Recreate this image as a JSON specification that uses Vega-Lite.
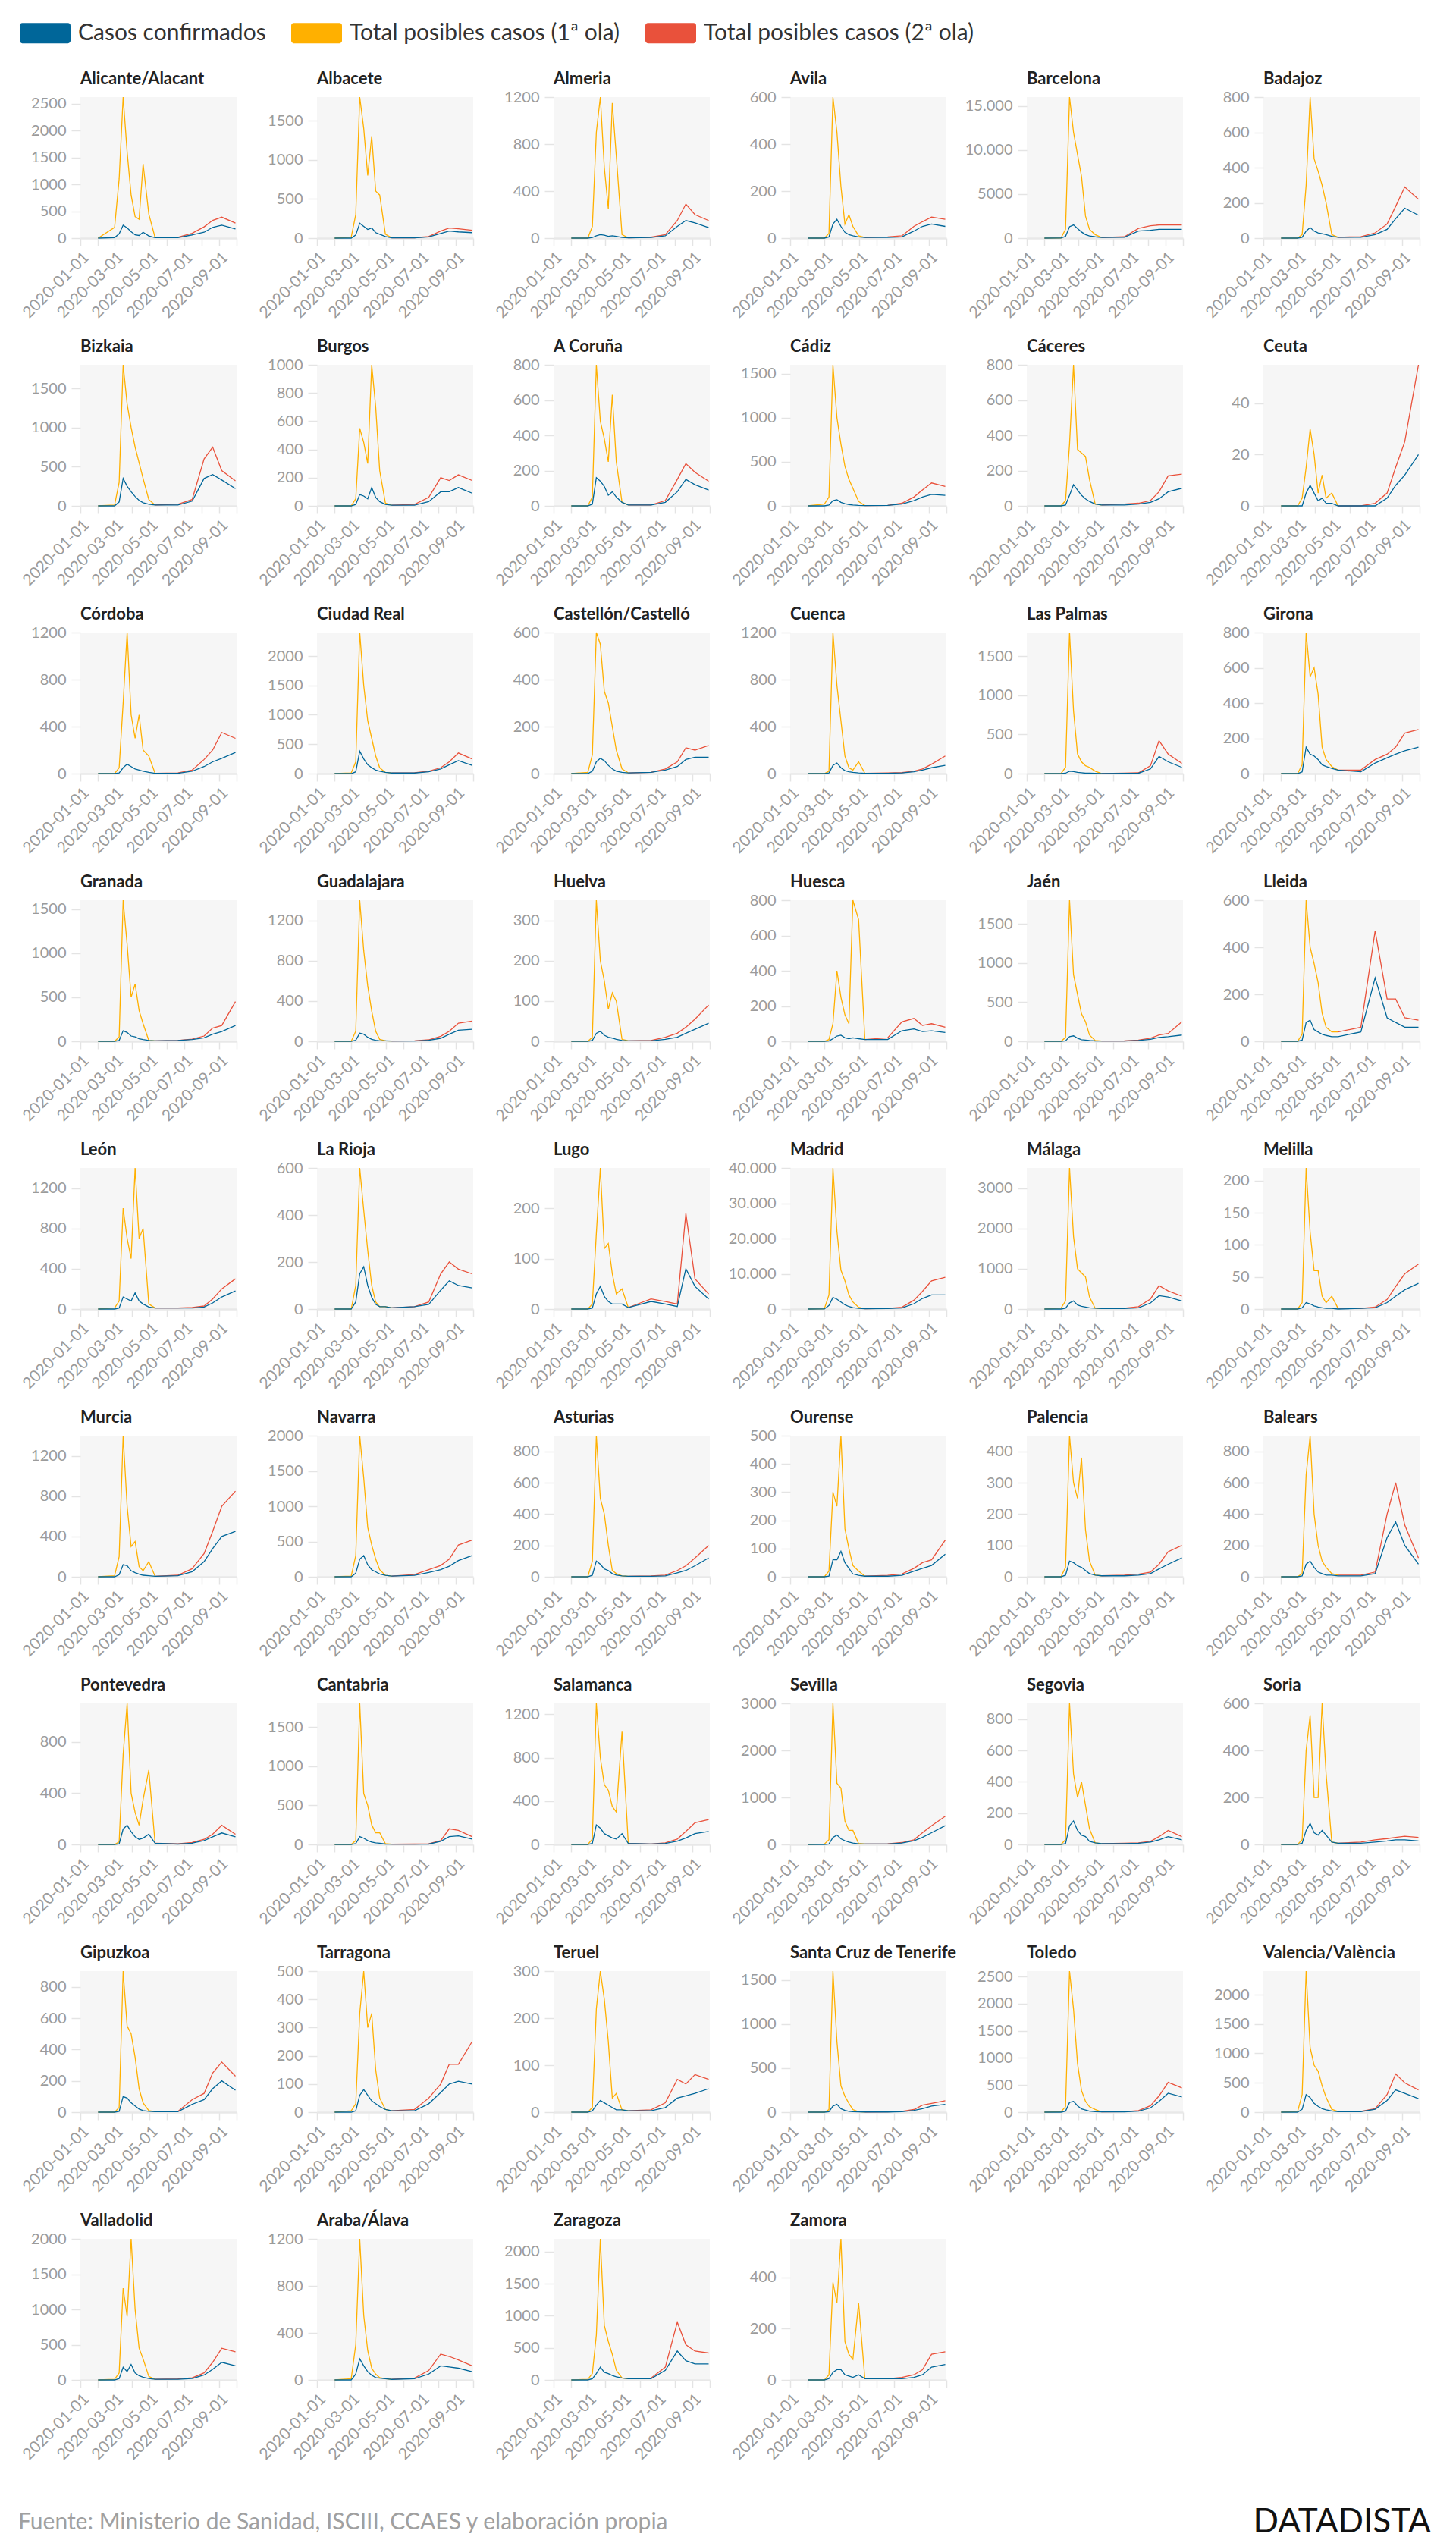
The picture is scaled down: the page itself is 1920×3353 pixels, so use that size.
{
"$schema":"https://vega.github.io/schema/vega-lite/v6.json",
"background":"white",
"padding":{"left":24,"top":10,"right":10,"bottom":10},
"datasets":{
"prov":[{"k":1,"n":"Alicante/Alacant"},{"k":2,"n":"Albacete"},{"k":3,"n":"Almeria"},{"k":4,"n":"Avila"},{"k":5,"n":"Barcelona"},{"k":6,"n":"Badajoz"},{"k":7,"n":"Bizkaia"},{"k":8,"n":"Burgos"},{"k":9,"n":"A Coruña"},{"k":10,"n":"Cádiz"},{"k":11,"n":"Cáceres"},{"k":12,"n":"Ceuta"},{"k":13,"n":"Córdoba"},{"k":14,"n":"Ciudad Real"},{"k":15,"n":"Castellón/Castelló"},{"k":16,"n":"Cuenca"},{"k":17,"n":"Las Palmas"},{"k":18,"n":"Girona"},{"k":19,"n":"Granada"},{"k":20,"n":"Guadalajara"},{"k":21,"n":"Huelva"},{"k":22,"n":"Huesca"},{"k":23,"n":"Jaén"},{"k":24,"n":"Lleida"},{"k":25,"n":"León"},{"k":26,"n":"La Rioja"},{"k":27,"n":"Lugo"},{"k":28,"n":"Madrid"},{"k":29,"n":"Málaga"},{"k":30,"n":"Melilla"},{"k":31,"n":"Murcia"},{"k":32,"n":"Navarra"},{"k":33,"n":"Asturias"},{"k":34,"n":"Ourense"},{"k":35,"n":"Palencia"},{"k":36,"n":"Balears"},{"k":37,"n":"Pontevedra"},{"k":38,"n":"Cantabria"},{"k":39,"n":"Salamanca"},{"k":40,"n":"Sevilla"},{"k":41,"n":"Segovia"},{"k":42,"n":"Soria"},{"k":43,"n":"Gipuzkoa"},{"k":44,"n":"Tarragona"},{"k":45,"n":"Teruel"},{"k":46,"n":"Santa Cruz de Tenerife"},{"k":47,"n":"Toledo"},{"k":48,"n":"Valencia/València"},{"k":49,"n":"Valladolid"},{"k":50,"n":"Araba/Álava"},{"k":51,"n":"Zaragoza"},{"k":52,"n":"Zamora"}],
"m":[
{"k":1,"d":"2020-02-01","c":0,"a":0},{"k":1,"d":"2020-03-01","c":10,"a":200},{"k":1,"d":"2020-03-09","c":80,"a":1100},{"k":1,"d":"2020-03-16","c":240,"a":2620},{"k":1,"d":"2020-03-23","c":190,"a":1600},{"k":1,"d":"2020-03-30","c":120,"a":800},{"k":1,"d":"2020-04-06","c":60,"a":400},{"k":1,"d":"2020-04-13","c":50,"a":350},{"k":1,"d":"2020-04-20","c":110,"a":1380},{"k":1,"d":"2020-04-30","c":40,"a":450},{"k":1,"d":"2020-05-11","c":10,"a":10,"b":10},{"k":1,"d":"2020-06-20","c":10,"b":15},{"k":1,"d":"2020-07-15","c":60,"b":90},{"k":1,"d":"2020-08-05","c":110,"b":210},{"k":1,"d":"2020-08-20","c":200,"b":330},{"k":1,"d":"2020-09-05","c":240,"b":390},{"k":1,"d":"2020-09-29","c":170,"b":280},
{"k":2,"d":"2020-02-01","c":0,"a":0},{"k":2,"d":"2020-03-01","c":0,"a":10},{"k":2,"d":"2020-03-09","c":40,"a":300},{"k":2,"d":"2020-03-16","c":190,"a":1800},{"k":2,"d":"2020-03-23","c":150,"a":1400},{"k":2,"d":"2020-03-30","c":110,"a":800},{"k":2,"d":"2020-04-06","c":130,"a":1300},{"k":2,"d":"2020-04-13","c":70,"a":600},{"k":2,"d":"2020-04-20","c":50,"a":550},{"k":2,"d":"2020-04-30","c":20,"a":50},{"k":2,"d":"2020-05-11","c":5,"a":5,"b":5},{"k":2,"d":"2020-06-20","c":5,"b":5},{"k":2,"d":"2020-07-15","c":15,"b":20},{"k":2,"d":"2020-08-05","c":60,"b":90},{"k":2,"d":"2020-08-20","c":90,"b":130},{"k":2,"d":"2020-09-05","c":80,"b":120},{"k":2,"d":"2020-09-29","c":70,"b":100},
{"k":3,"d":"2020-02-01","c":0,"a":0},{"k":3,"d":"2020-03-01","c":0,"a":0},{"k":3,"d":"2020-03-09","c":5,"a":100},{"k":3,"d":"2020-03-16","c":20,"a":900},{"k":3,"d":"2020-03-23","c":30,"a":1200},{"k":3,"d":"2020-03-30","c":25,"a":600},{"k":3,"d":"2020-04-06","c":15,"a":250},{"k":3,"d":"2020-04-13","c":20,"a":1150},{"k":3,"d":"2020-04-20","c":15,"a":700},{"k":3,"d":"2020-04-30","c":5,"a":30},{"k":3,"d":"2020-05-11","c":3,"a":3,"b":3},{"k":3,"d":"2020-06-20","c":5,"b":8},{"k":3,"d":"2020-07-15","c":20,"b":30},{"k":3,"d":"2020-08-05","c":100,"b":150},{"k":3,"d":"2020-08-20","c":150,"b":290},{"k":3,"d":"2020-09-05","c":130,"b":200},{"k":3,"d":"2020-09-29","c":90,"b":150},
{"k":4,"d":"2020-02-01","c":0,"a":0},{"k":4,"d":"2020-03-01","c":0,"a":0},{"k":4,"d":"2020-03-09","c":5,"a":20},{"k":4,"d":"2020-03-16","c":60,"a":600},{"k":4,"d":"2020-03-23","c":80,"a":450},{"k":4,"d":"2020-03-30","c":50,"a":220},{"k":4,"d":"2020-04-06","c":25,"a":60},{"k":4,"d":"2020-04-13","c":15,"a":100},{"k":4,"d":"2020-04-20","c":10,"a":50},{"k":4,"d":"2020-04-30","c":5,"a":10},{"k":4,"d":"2020-05-11","c":3,"a":3,"b":3},{"k":4,"d":"2020-06-20","c":3,"b":5},{"k":4,"d":"2020-07-15","c":5,"b":10},{"k":4,"d":"2020-08-05","c":30,"b":50},{"k":4,"d":"2020-08-20","c":50,"b":70},{"k":4,"d":"2020-09-05","c":60,"b":90},{"k":4,"d":"2020-09-29","c":50,"b":80},
{"k":5,"d":"2020-02-01","c":0,"a":0},{"k":5,"d":"2020-03-01","c":5,"a":20},{"k":5,"d":"2020-03-09","c":200,"a":1000},{"k":5,"d":"2020-03-16","c":1300,"a":16000},{"k":5,"d":"2020-03-23","c":1500,"a":12000},{"k":5,"d":"2020-03-30","c":1100,"a":9500},{"k":5,"d":"2020-04-06","c":700,"a":7000},{"k":5,"d":"2020-04-13","c":400,"a":2500},{"k":5,"d":"2020-04-20","c":250,"a":1000},{"k":5,"d":"2020-04-30","c":150,"a":400},{"k":5,"d":"2020-05-11","c":80,"a":80,"b":80},{"k":5,"d":"2020-06-20","c":100,"b":150},{"k":5,"d":"2020-07-15","c":800,"b":1100},{"k":5,"d":"2020-08-05","c":900,"b":1400},{"k":5,"d":"2020-08-20","c":1000,"b":1500},{"k":5,"d":"2020-09-05","c":1000,"b":1500},{"k":5,"d":"2020-09-29","c":1000,"b":1500},
{"k":6,"d":"2020-02-01","c":0,"a":0},{"k":6,"d":"2020-03-01","c":0,"a":0},{"k":6,"d":"2020-03-09","c":5,"a":20},{"k":6,"d":"2020-03-16","c":40,"a":300},{"k":6,"d":"2020-03-23","c":60,"a":800},{"k":6,"d":"2020-03-30","c":40,"a":450},{"k":6,"d":"2020-04-06","c":30,"a":380},{"k":6,"d":"2020-04-13","c":25,"a":300},{"k":6,"d":"2020-04-20","c":20,"a":200},{"k":6,"d":"2020-04-30","c":10,"a":20},{"k":6,"d":"2020-05-11","c":5,"a":5,"b":5},{"k":6,"d":"2020-06-20","c":5,"b":8},{"k":6,"d":"2020-07-15","c":20,"b":30},{"k":6,"d":"2020-08-05","c":50,"b":80},{"k":6,"d":"2020-08-20","c":110,"b":180},{"k":6,"d":"2020-09-05","c":170,"b":290},{"k":6,"d":"2020-09-29","c":130,"b":220},
{"k":7,"d":"2020-02-01","c":0,"a":0},{"k":7,"d":"2020-03-01","c":0,"a":10},{"k":7,"d":"2020-03-09","c":50,"a":300},{"k":7,"d":"2020-03-16","c":350,"a":1800},{"k":7,"d":"2020-03-23","c":250,"a":1300},{"k":7,"d":"2020-03-30","c":180,"a":1000},{"k":7,"d":"2020-04-06","c":120,"a":750},{"k":7,"d":"2020-04-13","c":70,"a":550},{"k":7,"d":"2020-04-20","c":40,"a":350},{"k":7,"d":"2020-04-30","c":20,"a":80},{"k":7,"d":"2020-05-11","c":10,"a":10,"b":10},{"k":7,"d":"2020-06-20","c":10,"b":20},{"k":7,"d":"2020-07-15","c":60,"b":80},{"k":7,"d":"2020-08-05","c":350,"b":600},{"k":7,"d":"2020-08-20","c":400,"b":750},{"k":7,"d":"2020-09-05","c":330,"b":450},{"k":7,"d":"2020-09-29","c":220,"b":320},
{"k":8,"d":"2020-02-01","c":0,"a":0},{"k":8,"d":"2020-03-01","c":0,"a":0},{"k":8,"d":"2020-03-09","c":10,"a":50},{"k":8,"d":"2020-03-16","c":80,"a":550},{"k":8,"d":"2020-03-23","c":70,"a":450},{"k":8,"d":"2020-03-30","c":50,"a":300},{"k":8,"d":"2020-04-06","c":130,"a":1000},{"k":8,"d":"2020-04-13","c":60,"a":700},{"k":8,"d":"2020-04-20","c":30,"a":250},{"k":8,"d":"2020-04-30","c":10,"a":20},{"k":8,"d":"2020-05-11","c":5,"a":5,"b":5},{"k":8,"d":"2020-06-20","c":5,"b":10},{"k":8,"d":"2020-07-15","c":30,"b":60},{"k":8,"d":"2020-08-05","c":100,"b":200},{"k":8,"d":"2020-08-20","c":100,"b":180},{"k":8,"d":"2020-09-05","c":130,"b":220},{"k":8,"d":"2020-09-29","c":90,"b":180},
{"k":9,"d":"2020-02-01","c":0,"a":0},{"k":9,"d":"2020-03-01","c":0,"a":0},{"k":9,"d":"2020-03-09","c":10,"a":50},{"k":9,"d":"2020-03-16","c":160,"a":800},{"k":9,"d":"2020-03-23","c":140,"a":480},{"k":9,"d":"2020-03-30","c":110,"a":380},{"k":9,"d":"2020-04-06","c":60,"a":250},{"k":9,"d":"2020-04-13","c":80,"a":630},{"k":9,"d":"2020-04-20","c":50,"a":250},{"k":9,"d":"2020-04-30","c":20,"a":20},{"k":9,"d":"2020-05-11","c":5,"a":5,"b":5},{"k":9,"d":"2020-06-20","c":5,"b":5},{"k":9,"d":"2020-07-15","c":20,"b":30},{"k":9,"d":"2020-08-05","c":80,"b":150},{"k":9,"d":"2020-08-20","c":150,"b":240},{"k":9,"d":"2020-09-05","c":120,"b":190},{"k":9,"d":"2020-09-29","c":90,"b":140},
{"k":10,"d":"2020-02-01","c":0,"a":0},{"k":10,"d":"2020-03-01","c":0,"a":20},{"k":10,"d":"2020-03-09","c":10,"a":100},{"k":10,"d":"2020-03-16","c":60,"a":1600},{"k":10,"d":"2020-03-23","c":70,"a":1000},{"k":10,"d":"2020-03-30","c":40,"a":700},{"k":10,"d":"2020-04-06","c":25,"a":450},{"k":10,"d":"2020-04-13","c":15,"a":300},{"k":10,"d":"2020-04-20","c":10,"a":200},{"k":10,"d":"2020-04-30","c":5,"a":50},{"k":10,"d":"2020-05-11","c":3,"a":3,"b":3},{"k":10,"d":"2020-06-20","c":5,"b":5},{"k":10,"d":"2020-07-15","c":20,"b":30},{"k":10,"d":"2020-08-05","c":60,"b":100},{"k":10,"d":"2020-08-20","c":100,"b":180},{"k":10,"d":"2020-09-05","c":130,"b":260},{"k":10,"d":"2020-09-29","c":120,"b":220},
{"k":11,"d":"2020-02-01","c":0,"a":0},{"k":11,"d":"2020-03-01","c":0,"a":0},{"k":11,"d":"2020-03-09","c":5,"a":30},{"k":11,"d":"2020-03-16","c":60,"a":350},{"k":11,"d":"2020-03-23","c":120,"a":800},{"k":11,"d":"2020-03-30","c":90,"a":320},{"k":11,"d":"2020-04-06","c":60,"a":300},{"k":11,"d":"2020-04-13","c":40,"a":280},{"k":11,"d":"2020-04-20","c":25,"a":150},{"k":11,"d":"2020-04-30","c":10,"a":10},{"k":11,"d":"2020-05-11","c":5,"a":5,"b":5},{"k":11,"d":"2020-06-20","c":5,"b":10},{"k":11,"d":"2020-07-15","c":10,"b":15},{"k":11,"d":"2020-08-05","c":20,"b":30},{"k":11,"d":"2020-08-20","c":40,"b":80},{"k":11,"d":"2020-09-05","c":80,"b":170},{"k":11,"d":"2020-09-29","c":100,"b":180},
{"k":12,"d":"2020-02-01","c":0,"a":0},{"k":12,"d":"2020-03-01","c":0,"a":0},{"k":12,"d":"2020-03-09","c":0,"a":3},{"k":12,"d":"2020-03-16","c":5,"a":15},{"k":12,"d":"2020-03-23","c":8,"a":30},{"k":12,"d":"2020-03-30","c":5,"a":20},{"k":12,"d":"2020-04-06","c":2,"a":5},{"k":12,"d":"2020-04-13","c":3,"a":12},{"k":12,"d":"2020-04-20","c":1,"a":3},{"k":12,"d":"2020-04-30","c":1,"a":5},{"k":12,"d":"2020-05-11","c":0,"a":0,"b":0},{"k":12,"d":"2020-06-20","c":0,"b":0},{"k":12,"d":"2020-07-15","c":0,"b":1},{"k":12,"d":"2020-08-05","c":3,"b":5},{"k":12,"d":"2020-08-20","c":8,"b":15},{"k":12,"d":"2020-09-05","c":12,"b":25},{"k":12,"d":"2020-09-29","c":20,"b":55},
{"k":13,"d":"2020-02-01","c":0,"a":0},{"k":13,"d":"2020-03-01","c":0,"a":0},{"k":13,"d":"2020-03-09","c":5,"a":50},{"k":13,"d":"2020-03-16","c":50,"a":600},{"k":13,"d":"2020-03-23","c":80,"a":1200},{"k":13,"d":"2020-03-30","c":60,"a":500},{"k":13,"d":"2020-04-06","c":40,"a":300},{"k":13,"d":"2020-04-13","c":30,"a":500},{"k":13,"d":"2020-04-20","c":20,"a":200},{"k":13,"d":"2020-04-30","c":10,"a":150},{"k":13,"d":"2020-05-11","c":3,"a":3,"b":3},{"k":13,"d":"2020-06-20","c":3,"b":5},{"k":13,"d":"2020-07-15","c":20,"b":30},{"k":13,"d":"2020-08-05","c":60,"b":120},{"k":13,"d":"2020-08-20","c":100,"b":200},{"k":13,"d":"2020-09-05","c":130,"b":350},{"k":13,"d":"2020-09-29","c":180,"b":300},
{"k":14,"d":"2020-02-01","c":0,"a":0},{"k":14,"d":"2020-03-01","c":0,"a":10},{"k":14,"d":"2020-03-09","c":30,"a":200},{"k":14,"d":"2020-03-16","c":380,"a":2400},{"k":14,"d":"2020-03-23","c":250,"a":1500},{"k":14,"d":"2020-03-30","c":150,"a":900},{"k":14,"d":"2020-04-06","c":100,"a":600},{"k":14,"d":"2020-04-13","c":60,"a":300},{"k":14,"d":"2020-04-20","c":40,"a":100},{"k":14,"d":"2020-04-30","c":20,"a":20},{"k":14,"d":"2020-05-11","c":10,"a":10,"b":10},{"k":14,"d":"2020-06-20","c":10,"b":15},{"k":14,"d":"2020-07-15","c":30,"b":40},{"k":14,"d":"2020-08-05","c":80,"b":100},{"k":14,"d":"2020-08-20","c":150,"b":200},{"k":14,"d":"2020-09-05","c":220,"b":350},{"k":14,"d":"2020-09-29","c":140,"b":250},
{"k":15,"d":"2020-02-01","c":0,"a":0},{"k":15,"d":"2020-03-01","c":0,"a":5},{"k":15,"d":"2020-03-09","c":10,"a":80},{"k":15,"d":"2020-03-16","c":50,"a":600},{"k":15,"d":"2020-03-23","c":65,"a":550},{"k":15,"d":"2020-03-30","c":55,"a":350},{"k":15,"d":"2020-04-06","c":35,"a":300},{"k":15,"d":"2020-04-13","c":20,"a":200},{"k":15,"d":"2020-04-20","c":10,"a":100},{"k":15,"d":"2020-04-30","c":5,"a":20},{"k":15,"d":"2020-05-11","c":3,"a":3,"b":3},{"k":15,"d":"2020-06-20","c":5,"b":5},{"k":15,"d":"2020-07-15","c":15,"b":20},{"k":15,"d":"2020-08-05","c":30,"b":50},{"k":15,"d":"2020-08-20","c":60,"b":110},{"k":15,"d":"2020-09-05","c":70,"b":100},{"k":15,"d":"2020-09-29","c":70,"b":120},
{"k":16,"d":"2020-02-01","c":0,"a":0},{"k":16,"d":"2020-03-01","c":0,"a":0},{"k":16,"d":"2020-03-09","c":5,"a":20},{"k":16,"d":"2020-03-16","c":70,"a":1200},{"k":16,"d":"2020-03-23","c":90,"a":750},{"k":16,"d":"2020-03-30","c":50,"a":450},{"k":16,"d":"2020-04-06","c":25,"a":150},{"k":16,"d":"2020-04-13","c":15,"a":50},{"k":16,"d":"2020-04-20","c":10,"a":30},{"k":16,"d":"2020-04-30","c":5,"a":100},{"k":16,"d":"2020-05-11","c":3,"a":3,"b":3},{"k":16,"d":"2020-06-20","c":3,"b":5},{"k":16,"d":"2020-07-15","c":5,"b":8},{"k":16,"d":"2020-08-05","c":15,"b":20},{"k":16,"d":"2020-08-20","c":30,"b":40},{"k":16,"d":"2020-09-05","c":50,"b":80},{"k":16,"d":"2020-09-29","c":70,"b":150},
{"k":17,"d":"2020-02-01","c":0,"a":0},{"k":17,"d":"2020-03-01","c":0,"a":0},{"k":17,"d":"2020-03-09","c":5,"a":80},{"k":17,"d":"2020-03-16","c":30,"a":1800},{"k":17,"d":"2020-03-23","c":25,"a":800},{"k":17,"d":"2020-03-30","c":15,"a":250},{"k":17,"d":"2020-04-06","c":10,"a":150},{"k":17,"d":"2020-04-13","c":5,"a":100},{"k":17,"d":"2020-04-20","c":5,"a":80},{"k":17,"d":"2020-04-30","c":3,"a":30},{"k":17,"d":"2020-05-11","c":2,"a":2,"b":2},{"k":17,"d":"2020-06-20","c":3,"b":5},{"k":17,"d":"2020-07-15","c":5,"b":10},{"k":17,"d":"2020-08-05","c":60,"b":100},{"k":17,"d":"2020-08-20","c":220,"b":420},{"k":17,"d":"2020-09-05","c":150,"b":250},{"k":17,"d":"2020-09-29","c":80,"b":130},
{"k":18,"d":"2020-02-01","c":0,"a":0},{"k":18,"d":"2020-03-01","c":0,"a":0},{"k":18,"d":"2020-03-09","c":10,"a":50},{"k":18,"d":"2020-03-16","c":150,"a":800},{"k":18,"d":"2020-03-23","c":110,"a":550},{"k":18,"d":"2020-03-30","c":100,"a":600},{"k":18,"d":"2020-04-06","c":80,"a":450},{"k":18,"d":"2020-04-13","c":50,"a":150},{"k":18,"d":"2020-04-20","c":40,"a":80},{"k":18,"d":"2020-04-30","c":30,"a":40},{"k":18,"d":"2020-05-11","c":20,"a":20,"b":20},{"k":18,"d":"2020-06-20","c":10,"b":20},{"k":18,"d":"2020-07-15","c":60,"b":80},{"k":18,"d":"2020-08-05","c":90,"b":110},{"k":18,"d":"2020-08-20","c":110,"b":150},{"k":18,"d":"2020-09-05","c":130,"b":230},{"k":18,"d":"2020-09-29","c":150,"b":250},
{"k":19,"d":"2020-02-01","c":0,"a":0},{"k":19,"d":"2020-03-01","c":0,"a":0},{"k":19,"d":"2020-03-09","c":10,"a":50},{"k":19,"d":"2020-03-16","c":120,"a":1600},{"k":19,"d":"2020-03-23","c":100,"a":1100},{"k":19,"d":"2020-03-30","c":60,"a":500},{"k":19,"d":"2020-04-06","c":50,"a":650},{"k":19,"d":"2020-04-13","c":30,"a":350},{"k":19,"d":"2020-04-20","c":20,"a":200},{"k":19,"d":"2020-04-30","c":10,"a":10},{"k":19,"d":"2020-05-11","c":5,"a":5,"b":5},{"k":19,"d":"2020-06-20","c":10,"b":10},{"k":19,"d":"2020-07-15","c":20,"b":25},{"k":19,"d":"2020-08-05","c":40,"b":60},{"k":19,"d":"2020-08-20","c":80,"b":150},{"k":19,"d":"2020-09-05","c":110,"b":180},{"k":19,"d":"2020-09-29","c":180,"b":450},
{"k":20,"d":"2020-02-01","c":0,"a":0},{"k":20,"d":"2020-03-01","c":0,"a":0},{"k":20,"d":"2020-03-09","c":10,"a":100},{"k":20,"d":"2020-03-16","c":80,"a":1400},{"k":20,"d":"2020-03-23","c":70,"a":900},{"k":20,"d":"2020-03-30","c":40,"a":550},{"k":20,"d":"2020-04-06","c":20,"a":300},{"k":20,"d":"2020-04-13","c":10,"a":100},{"k":20,"d":"2020-04-20","c":5,"a":20},{"k":20,"d":"2020-04-30","c":5,"a":5},{"k":20,"d":"2020-05-11","c":3,"a":3,"b":3},{"k":20,"d":"2020-06-20","c":3,"b":5},{"k":20,"d":"2020-07-15","c":10,"b":15},{"k":20,"d":"2020-08-05","c":30,"b":50},{"k":20,"d":"2020-08-20","c":70,"b":100},{"k":20,"d":"2020-09-05","c":110,"b":180},{"k":20,"d":"2020-09-29","c":120,"b":200},
{"k":21,"d":"2020-02-01","c":0,"a":0},{"k":21,"d":"2020-03-01","c":0,"a":0},{"k":21,"d":"2020-03-09","c":2,"a":10},{"k":21,"d":"2020-03-16","c":20,"a":350},{"k":21,"d":"2020-03-23","c":25,"a":200},{"k":21,"d":"2020-03-30","c":15,"a":150},{"k":21,"d":"2020-04-06","c":10,"a":80},{"k":21,"d":"2020-04-13","c":8,"a":120},{"k":21,"d":"2020-04-20","c":5,"a":100},{"k":21,"d":"2020-04-30","c":2,"a":5},{"k":21,"d":"2020-05-11","c":1,"a":1,"b":1},{"k":21,"d":"2020-06-20","c":1,"b":2},{"k":21,"d":"2020-07-15","c":5,"b":10},{"k":21,"d":"2020-08-05","c":10,"b":20},{"k":21,"d":"2020-08-20","c":20,"b":35},{"k":21,"d":"2020-09-05","c":30,"b":55},{"k":21,"d":"2020-09-29","c":45,"b":90},
{"k":22,"d":"2020-02-01","c":0,"a":0},{"k":22,"d":"2020-03-01","c":0,"a":0},{"k":22,"d":"2020-03-09","c":2,"a":10},{"k":22,"d":"2020-03-16","c":15,"a":100},{"k":22,"d":"2020-03-23","c":30,"a":400},{"k":22,"d":"2020-03-30","c":35,"a":250},{"k":22,"d":"2020-04-06","c":20,"a":150},{"k":22,"d":"2020-04-13","c":15,"a":100},{"k":22,"d":"2020-04-20","c":20,"a":800},{"k":22,"d":"2020-04-30","c":15,"a":690},{"k":22,"d":"2020-05-11","c":10,"a":10,"b":10},{"k":22,"d":"2020-06-20","c":10,"b":20},{"k":22,"d":"2020-07-15","c":60,"b":110},{"k":22,"d":"2020-08-05","c":70,"b":130},{"k":22,"d":"2020-08-20","c":55,"b":90},{"k":22,"d":"2020-09-05","c":60,"b":100},{"k":22,"d":"2020-09-29","c":50,"b":80},
{"k":23,"d":"2020-02-01","c":0,"a":0},{"k":23,"d":"2020-03-01","c":0,"a":0},{"k":23,"d":"2020-03-09","c":5,"a":50},{"k":23,"d":"2020-03-16","c":60,"a":1800},{"k":23,"d":"2020-03-23","c":70,"a":850},{"k":23,"d":"2020-03-30","c":40,"a":600},{"k":23,"d":"2020-04-06","c":20,"a":350},{"k":23,"d":"2020-04-13","c":15,"a":250},{"k":23,"d":"2020-04-20","c":10,"a":80},{"k":23,"d":"2020-04-30","c":5,"a":10},{"k":23,"d":"2020-05-11","c":3,"a":3,"b":3},{"k":23,"d":"2020-06-20","c":3,"b":5},{"k":23,"d":"2020-07-15","c":10,"b":15},{"k":23,"d":"2020-08-05","c":25,"b":40},{"k":23,"d":"2020-08-20","c":50,"b":80},{"k":23,"d":"2020-09-05","c":60,"b":100},{"k":23,"d":"2020-09-29","c":80,"b":250},
{"k":24,"d":"2020-02-01","c":0,"a":0},{"k":24,"d":"2020-03-01","c":0,"a":0},{"k":24,"d":"2020-03-09","c":5,"a":30},{"k":24,"d":"2020-03-16","c":80,"a":600},{"k":24,"d":"2020-03-23","c":90,"a":400},{"k":24,"d":"2020-03-30","c":50,"a":330},{"k":24,"d":"2020-04-06","c":40,"a":250},{"k":24,"d":"2020-04-13","c":30,"a":120},{"k":24,"d":"2020-04-20","c":25,"a":60},{"k":24,"d":"2020-04-30","c":20,"a":40},{"k":24,"d":"2020-05-11","c":20,"a":40,"b":40},{"k":24,"d":"2020-06-20","c":40,"b":60},{"k":24,"d":"2020-07-15","c":270,"b":470},{"k":24,"d":"2020-08-05","c":100,"b":180},{"k":24,"d":"2020-08-20","c":80,"b":180},{"k":24,"d":"2020-09-05","c":60,"b":100},{"k":24,"d":"2020-09-29","c":60,"b":90},
{"k":25,"d":"2020-02-01","c":0,"a":0},{"k":25,"d":"2020-03-01","c":0,"a":10},{"k":25,"d":"2020-03-09","c":10,"a":80},{"k":25,"d":"2020-03-16","c":120,"a":1000},{"k":25,"d":"2020-03-23","c":100,"a":700},{"k":25,"d":"2020-03-30","c":80,"a":500},{"k":25,"d":"2020-04-06","c":160,"a":1400},{"k":25,"d":"2020-04-13","c":80,"a":700},{"k":25,"d":"2020-04-20","c":50,"a":800},{"k":25,"d":"2020-04-30","c":20,"a":50},{"k":25,"d":"2020-05-11","c":10,"a":10,"b":10},{"k":25,"d":"2020-06-20","c":10,"b":10},{"k":25,"d":"2020-07-15","c":10,"b":15},{"k":25,"d":"2020-08-05","c":20,"b":30},{"k":25,"d":"2020-08-20","c":60,"b":100},{"k":25,"d":"2020-09-05","c":120,"b":200},{"k":25,"d":"2020-09-29","c":180,"b":300},
{"k":26,"d":"2020-02-01","c":0,"a":0},{"k":26,"d":"2020-03-01","c":0,"a":0},{"k":26,"d":"2020-03-09","c":30,"a":100},{"k":26,"d":"2020-03-16","c":150,"a":600},{"k":26,"d":"2020-03-23","c":180,"a":420},{"k":26,"d":"2020-03-30","c":100,"a":250},{"k":26,"d":"2020-04-06","c":50,"a":100},{"k":26,"d":"2020-04-13","c":20,"a":30},{"k":26,"d":"2020-04-20","c":10,"a":10},{"k":26,"d":"2020-04-30","c":10,"a":10},{"k":26,"d":"2020-05-11","c":5,"a":5,"b":5},{"k":26,"d":"2020-06-20","c":10,"b":10},{"k":26,"d":"2020-07-15","c":20,"b":30},{"k":26,"d":"2020-08-05","c":80,"b":150},{"k":26,"d":"2020-08-20","c":120,"b":200},{"k":26,"d":"2020-09-05","c":100,"b":170},{"k":26,"d":"2020-09-29","c":90,"b":150},
{"k":27,"d":"2020-02-01","c":0,"a":0},{"k":27,"d":"2020-03-01","c":0,"a":0},{"k":27,"d":"2020-03-09","c":2,"a":10},{"k":27,"d":"2020-03-16","c":30,"a":150},{"k":27,"d":"2020-03-23","c":45,"a":280},{"k":27,"d":"2020-03-30","c":25,"a":120},{"k":27,"d":"2020-04-06","c":15,"a":130},{"k":27,"d":"2020-04-13","c":10,"a":70},{"k":27,"d":"2020-04-20","c":10,"a":30},{"k":27,"d":"2020-04-30","c":10,"a":40},{"k":27,"d":"2020-05-11","c":3,"a":3,"b":3},{"k":27,"d":"2020-06-20","c":15,"b":20},{"k":27,"d":"2020-07-15","c":10,"b":15},{"k":27,"d":"2020-08-05","c":5,"b":10},{"k":27,"d":"2020-08-20","c":80,"b":190},{"k":27,"d":"2020-09-05","c":45,"b":60},{"k":27,"d":"2020-09-29","c":20,"b":30},
{"k":28,"d":"2020-02-01","c":0,"a":0},{"k":28,"d":"2020-03-01","c":10,"a":100},{"k":28,"d":"2020-03-09","c":1000,"a":4000},{"k":28,"d":"2020-03-16","c":3300,"a":40000},{"k":28,"d":"2020-03-23","c":2800,"a":22000},{"k":28,"d":"2020-03-30","c":2000,"a":11000},{"k":28,"d":"2020-04-06","c":1200,"a":8000},{"k":28,"d":"2020-04-13","c":700,"a":4000},{"k":28,"d":"2020-04-20","c":400,"a":2000},{"k":28,"d":"2020-04-30","c":200,"a":500},{"k":28,"d":"2020-05-11","c":100,"a":100,"b":100},{"k":28,"d":"2020-06-20","c":150,"b":200},{"k":28,"d":"2020-07-15","c":300,"b":500},{"k":28,"d":"2020-08-05","c":1500,"b":2500},{"k":28,"d":"2020-08-20","c":3000,"b":5000},{"k":28,"d":"2020-09-05","c":4000,"b":8000},{"k":28,"d":"2020-09-29","c":4000,"b":9000},
{"k":29,"d":"2020-02-01","c":0,"a":0},{"k":29,"d":"2020-03-01","c":0,"a":20},{"k":29,"d":"2020-03-09","c":20,"a":200},{"k":29,"d":"2020-03-16","c":150,"a":3500},{"k":29,"d":"2020-03-23","c":200,"a":1800},{"k":29,"d":"2020-03-30","c":100,"a":1000},{"k":29,"d":"2020-04-06","c":70,"a":900},{"k":29,"d":"2020-04-13","c":50,"a":800},{"k":29,"d":"2020-04-20","c":30,"a":300},{"k":29,"d":"2020-04-30","c":20,"a":20},{"k":29,"d":"2020-05-11","c":10,"a":10,"b":10},{"k":29,"d":"2020-06-20","c":10,"b":20},{"k":29,"d":"2020-07-15","c":30,"b":60},{"k":29,"d":"2020-08-05","c":150,"b":250},{"k":29,"d":"2020-08-20","c":330,"b":580},{"k":29,"d":"2020-09-05","c":300,"b":450},{"k":29,"d":"2020-09-29","c":200,"b":320},
{"k":30,"d":"2020-02-01","c":0,"a":0},{"k":30,"d":"2020-03-01","c":0,"a":0},{"k":30,"d":"2020-03-09","c":2,"a":10},{"k":30,"d":"2020-03-16","c":10,"a":220},{"k":30,"d":"2020-03-23","c":8,"a":120},{"k":30,"d":"2020-03-30","c":5,"a":60},{"k":30,"d":"2020-04-06","c":3,"a":60},{"k":30,"d":"2020-04-13","c":2,"a":20},{"k":30,"d":"2020-04-20","c":1,"a":10},{"k":30,"d":"2020-04-30","c":1,"a":20},{"k":30,"d":"2020-05-11","c":0,"a":1,"b":1},{"k":30,"d":"2020-06-20","c":1,"b":1},{"k":30,"d":"2020-07-15","c":2,"b":3},{"k":30,"d":"2020-08-05","c":10,"b":15},{"k":30,"d":"2020-08-20","c":20,"b":35},{"k":30,"d":"2020-09-05","c":30,"b":55},{"k":30,"d":"2020-09-29","c":40,"b":70},
{"k":31,"d":"2020-02-01","c":0,"a":0},{"k":31,"d":"2020-03-01","c":0,"a":10},{"k":31,"d":"2020-03-09","c":20,"a":200},{"k":31,"d":"2020-03-16","c":120,"a":1400},{"k":31,"d":"2020-03-23","c":110,"a":700},{"k":31,"d":"2020-03-30","c":60,"a":300},{"k":31,"d":"2020-04-06","c":40,"a":350},{"k":31,"d":"2020-04-13","c":25,"a":100},{"k":31,"d":"2020-04-20","c":15,"a":60},{"k":31,"d":"2020-04-30","c":10,"a":150},{"k":31,"d":"2020-05-11","c":5,"a":5,"b":5},{"k":31,"d":"2020-06-20","c":10,"b":15},{"k":31,"d":"2020-07-15","c":50,"b":80},{"k":31,"d":"2020-08-05","c":150,"b":230},{"k":31,"d":"2020-08-20","c":280,"b":450},{"k":31,"d":"2020-09-05","c":400,"b":700},{"k":31,"d":"2020-09-29","c":450,"b":850},
{"k":32,"d":"2020-02-01","c":0,"a":0},{"k":32,"d":"2020-03-01","c":0,"a":10},{"k":32,"d":"2020-03-09","c":50,"a":300},{"k":32,"d":"2020-03-16","c":250,"a":2000},{"k":32,"d":"2020-03-23","c":300,"a":1400},{"k":32,"d":"2020-03-30","c":170,"a":700},{"k":32,"d":"2020-04-06","c":100,"a":450},{"k":32,"d":"2020-04-13","c":70,"a":250},{"k":32,"d":"2020-04-20","c":40,"a":100},{"k":32,"d":"2020-04-30","c":20,"a":20},{"k":32,"d":"2020-05-11","c":10,"a":10,"b":10},{"k":32,"d":"2020-06-20","c":20,"b":30},{"k":32,"d":"2020-07-15","c":60,"b":100},{"k":32,"d":"2020-08-05","c":100,"b":160},{"k":32,"d":"2020-08-20","c":150,"b":250},{"k":32,"d":"2020-09-05","c":230,"b":450},{"k":32,"d":"2020-09-29","c":300,"b":520},
{"k":33,"d":"2020-02-01","c":0,"a":0},{"k":33,"d":"2020-03-01","c":0,"a":0},{"k":33,"d":"2020-03-09","c":10,"a":100},{"k":33,"d":"2020-03-16","c":100,"a":900},{"k":33,"d":"2020-03-23","c":80,"a":500},{"k":33,"d":"2020-03-30","c":50,"a":400},{"k":33,"d":"2020-04-06","c":40,"a":200},{"k":33,"d":"2020-04-13","c":20,"a":40},{"k":33,"d":"2020-04-20","c":10,"a":20},{"k":33,"d":"2020-04-30","c":5,"a":5},{"k":33,"d":"2020-05-11","c":3,"a":3,"b":3},{"k":33,"d":"2020-06-20","c":3,"b":5},{"k":33,"d":"2020-07-15","c":5,"b":10},{"k":33,"d":"2020-08-05","c":25,"b":40},{"k":33,"d":"2020-08-20","c":40,"b":70},{"k":33,"d":"2020-09-05","c":70,"b":120},{"k":33,"d":"2020-09-29","c":120,"b":200},
{"k":34,"d":"2020-02-01","c":0,"a":0},{"k":34,"d":"2020-03-01","c":0,"a":0},{"k":34,"d":"2020-03-09","c":2,"a":20},{"k":34,"d":"2020-03-16","c":60,"a":300},{"k":34,"d":"2020-03-23","c":60,"a":250},{"k":34,"d":"2020-03-30","c":90,"a":500},{"k":34,"d":"2020-04-06","c":50,"a":170},{"k":34,"d":"2020-04-13","c":30,"a":100},{"k":34,"d":"2020-04-20","c":10,"a":40},{"k":34,"d":"2020-04-30","c":5,"a":20},{"k":34,"d":"2020-05-11","c":2,"a":2,"b":2},{"k":34,"d":"2020-06-20","c":2,"b":5},{"k":34,"d":"2020-07-15","c":5,"b":10},{"k":34,"d":"2020-08-05","c":20,"b":30},{"k":34,"d":"2020-08-20","c":30,"b":50},{"k":34,"d":"2020-09-05","c":40,"b":60},{"k":34,"d":"2020-09-29","c":80,"b":130},
{"k":35,"d":"2020-02-01","c":0,"a":0},{"k":35,"d":"2020-03-01","c":0,"a":0},{"k":35,"d":"2020-03-09","c":5,"a":30},{"k":35,"d":"2020-03-16","c":50,"a":450},{"k":35,"d":"2020-03-23","c":45,"a":300},{"k":35,"d":"2020-03-30","c":35,"a":250},{"k":35,"d":"2020-04-06","c":30,"a":380},{"k":35,"d":"2020-04-13","c":20,"a":150},{"k":35,"d":"2020-04-20","c":10,"a":50},{"k":35,"d":"2020-04-30","c":5,"a":5},{"k":35,"d":"2020-05-11","c":3,"a":3,"b":3},{"k":35,"d":"2020-06-20","c":3,"b":5},{"k":35,"d":"2020-07-15","c":5,"b":8},{"k":35,"d":"2020-08-05","c":10,"b":15},{"k":35,"d":"2020-08-20","c":25,"b":40},{"k":35,"d":"2020-09-05","c":40,"b":80},{"k":35,"d":"2020-09-29","c":60,"b":100},
{"k":36,"d":"2020-02-01","c":0,"a":0},{"k":36,"d":"2020-03-01","c":0,"a":0},{"k":36,"d":"2020-03-09","c":5,"a":20},{"k":36,"d":"2020-03-16","c":80,"a":650},{"k":36,"d":"2020-03-23","c":100,"a":900},{"k":36,"d":"2020-03-30","c":60,"a":400},{"k":36,"d":"2020-04-06","c":30,"a":200},{"k":36,"d":"2020-04-13","c":20,"a":100},{"k":36,"d":"2020-04-20","c":10,"a":60},{"k":36,"d":"2020-04-30","c":10,"a":20},{"k":36,"d":"2020-05-11","c":5,"a":10,"b":10},{"k":36,"d":"2020-06-20","c":5,"b":10},{"k":36,"d":"2020-07-15","c":20,"b":30},{"k":36,"d":"2020-08-05","c":250,"b":400},{"k":36,"d":"2020-08-20","c":350,"b":600},{"k":36,"d":"2020-09-05","c":200,"b":330},{"k":36,"d":"2020-09-29","c":80,"b":120},
{"k":37,"d":"2020-02-01","c":0,"a":0},{"k":37,"d":"2020-03-01","c":0,"a":0},{"k":37,"d":"2020-03-09","c":5,"a":20},{"k":37,"d":"2020-03-16","c":120,"a":700},{"k":37,"d":"2020-03-23","c":150,"a":1100},{"k":37,"d":"2020-03-30","c":100,"a":400},{"k":37,"d":"2020-04-06","c":60,"a":250},{"k":37,"d":"2020-04-13","c":40,"a":150},{"k":37,"d":"2020-04-20","c":50,"a":350},{"k":37,"d":"2020-04-30","c":80,"a":580},{"k":37,"d":"2020-05-11","c":10,"a":10,"b":10},{"k":37,"d":"2020-06-20","c":3,"b":5},{"k":37,"d":"2020-07-15","c":10,"b":15},{"k":37,"d":"2020-08-05","c":30,"b":40},{"k":37,"d":"2020-08-20","c":60,"b":80},{"k":37,"d":"2020-09-05","c":90,"b":150},{"k":37,"d":"2020-09-29","c":60,"b":80},
{"k":38,"d":"2020-02-01","c":0,"a":0},{"k":38,"d":"2020-03-01","c":0,"a":0},{"k":38,"d":"2020-03-09","c":10,"a":50},{"k":38,"d":"2020-03-16","c":100,"a":1800},{"k":38,"d":"2020-03-23","c":80,"a":650},{"k":38,"d":"2020-03-30","c":50,"a":500},{"k":38,"d":"2020-04-06","c":30,"a":250},{"k":38,"d":"2020-04-13","c":20,"a":150},{"k":38,"d":"2020-04-20","c":15,"a":150},{"k":38,"d":"2020-04-30","c":5,"a":10},{"k":38,"d":"2020-05-11","c":3,"a":3,"b":3},{"k":38,"d":"2020-06-20","c":3,"b":5},{"k":38,"d":"2020-07-15","c":5,"b":8},{"k":38,"d":"2020-08-05","c":40,"b":50},{"k":38,"d":"2020-08-20","c":100,"b":200},{"k":38,"d":"2020-09-05","c":110,"b":180},{"k":38,"d":"2020-09-29","c":70,"b":100},
{"k":39,"d":"2020-02-01","c":0,"a":0},{"k":39,"d":"2020-03-01","c":0,"a":0},{"k":39,"d":"2020-03-09","c":10,"a":50},{"k":39,"d":"2020-03-16","c":180,"a":1300},{"k":39,"d":"2020-03-23","c":150,"a":800},{"k":39,"d":"2020-03-30","c":100,"a":550},{"k":39,"d":"2020-04-06","c":80,"a":500},{"k":39,"d":"2020-04-13","c":60,"a":350},{"k":39,"d":"2020-04-20","c":50,"a":300},{"k":39,"d":"2020-04-30","c":100,"a":1040},{"k":39,"d":"2020-05-11","c":10,"a":10,"b":10},{"k":39,"d":"2020-06-20","c":5,"b":5},{"k":39,"d":"2020-07-15","c":10,"b":15},{"k":39,"d":"2020-08-05","c":30,"b":50},{"k":39,"d":"2020-08-20","c":60,"b":120},{"k":39,"d":"2020-09-05","c":100,"b":200},{"k":39,"d":"2020-09-29","c":120,"b":230},
{"k":40,"d":"2020-02-01","c":0,"a":0},{"k":40,"d":"2020-03-01","c":0,"a":10},{"k":40,"d":"2020-03-09","c":10,"a":100},{"k":40,"d":"2020-03-16","c":150,"a":3000},{"k":40,"d":"2020-03-23","c":200,"a":1300},{"k":40,"d":"2020-03-30","c":120,"a":1200},{"k":40,"d":"2020-04-06","c":80,"a":500},{"k":40,"d":"2020-04-13","c":50,"a":300},{"k":40,"d":"2020-04-20","c":30,"a":300},{"k":40,"d":"2020-04-30","c":15,"a":20},{"k":40,"d":"2020-05-11","c":10,"a":10,"b":10},{"k":40,"d":"2020-06-20","c":10,"b":15},{"k":40,"d":"2020-07-15","c":30,"b":40},{"k":40,"d":"2020-08-05","c":80,"b":100},{"k":40,"d":"2020-08-20","c":150,"b":250},{"k":40,"d":"2020-09-05","c":250,"b":400},{"k":40,"d":"2020-09-29","c":400,"b":600},
{"k":41,"d":"2020-02-01","c":0,"a":0},{"k":41,"d":"2020-03-01","c":0,"a":0},{"k":41,"d":"2020-03-09","c":5,"a":30},{"k":41,"d":"2020-03-16","c":120,"a":900},{"k":41,"d":"2020-03-23","c":150,"a":450},{"k":41,"d":"2020-03-30","c":90,"a":300},{"k":41,"d":"2020-04-06","c":60,"a":400},{"k":41,"d":"2020-04-13","c":50,"a":250},{"k":41,"d":"2020-04-20","c":20,"a":100},{"k":41,"d":"2020-04-30","c":10,"a":10},{"k":41,"d":"2020-05-11","c":5,"a":5,"b":5},{"k":41,"d":"2020-06-20","c":5,"b":8},{"k":41,"d":"2020-07-15","c":8,"b":10},{"k":41,"d":"2020-08-05","c":15,"b":20},{"k":41,"d":"2020-08-20","c":30,"b":50},{"k":41,"d":"2020-09-05","c":50,"b":90},{"k":41,"d":"2020-09-29","c":30,"b":50},
{"k":42,"d":"2020-02-01","c":0,"a":0},{"k":42,"d":"2020-03-01","c":0,"a":0},{"k":42,"d":"2020-03-09","c":5,"a":20},{"k":42,"d":"2020-03-16","c":60,"a":400},{"k":42,"d":"2020-03-23","c":90,"a":550},{"k":42,"d":"2020-03-30","c":50,"a":200},{"k":42,"d":"2020-04-06","c":40,"a":200},{"k":42,"d":"2020-04-13","c":60,"a":600},{"k":42,"d":"2020-04-20","c":40,"a":300},{"k":42,"d":"2020-04-30","c":10,"a":10},{"k":42,"d":"2020-05-11","c":5,"a":5,"b":5},{"k":42,"d":"2020-06-20","c":5,"b":10},{"k":42,"d":"2020-07-15","c":10,"b":20},{"k":42,"d":"2020-08-05","c":15,"b":25},{"k":42,"d":"2020-08-20","c":20,"b":30},{"k":42,"d":"2020-09-05","c":20,"b":35},{"k":42,"d":"2020-09-29","c":15,"b":30},
{"k":43,"d":"2020-02-01","c":0,"a":0},{"k":43,"d":"2020-03-01","c":0,"a":0},{"k":43,"d":"2020-03-09","c":5,"a":30},{"k":43,"d":"2020-03-16","c":100,"a":900},{"k":43,"d":"2020-03-23","c":90,"a":550},{"k":43,"d":"2020-03-30","c":60,"a":500},{"k":43,"d":"2020-04-06","c":40,"a":350},{"k":43,"d":"2020-04-13","c":20,"a":150},{"k":43,"d":"2020-04-20","c":10,"a":60},{"k":43,"d":"2020-04-30","c":5,"a":10},{"k":43,"d":"2020-05-11","c":3,"a":3,"b":3},{"k":43,"d":"2020-06-20","c":3,"b":5},{"k":43,"d":"2020-07-15","c":50,"b":80},{"k":43,"d":"2020-08-05","c":80,"b":120},{"k":43,"d":"2020-08-20","c":150,"b":250},{"k":43,"d":"2020-09-05","c":200,"b":320},{"k":43,"d":"2020-09-29","c":140,"b":230},
{"k":44,"d":"2020-02-01","c":0,"a":0},{"k":44,"d":"2020-03-01","c":0,"a":5},{"k":44,"d":"2020-03-09","c":5,"a":30},{"k":44,"d":"2020-03-16","c":60,"a":350},{"k":44,"d":"2020-03-23","c":80,"a":500},{"k":44,"d":"2020-03-30","c":60,"a":300},{"k":44,"d":"2020-04-06","c":40,"a":350},{"k":44,"d":"2020-04-13","c":30,"a":150},{"k":44,"d":"2020-04-20","c":20,"a":50},{"k":44,"d":"2020-04-30","c":10,"a":10},{"k":44,"d":"2020-05-11","c":5,"a":5,"b":5},{"k":44,"d":"2020-06-20","c":5,"b":10},{"k":44,"d":"2020-07-15","c":30,"b":50},{"k":44,"d":"2020-08-05","c":70,"b":100},{"k":44,"d":"2020-08-20","c":100,"b":170},{"k":44,"d":"2020-09-05","c":110,"b":170},{"k":44,"d":"2020-09-29","c":100,"b":250},
{"k":45,"d":"2020-02-01","c":0,"a":0},{"k":45,"d":"2020-03-01","c":0,"a":0},{"k":45,"d":"2020-03-09","c":3,"a":10},{"k":45,"d":"2020-03-16","c":15,"a":220},{"k":45,"d":"2020-03-23","c":25,"a":300},{"k":45,"d":"2020-03-30","c":20,"a":240},{"k":45,"d":"2020-04-06","c":15,"a":150},{"k":45,"d":"2020-04-13","c":10,"a":30},{"k":45,"d":"2020-04-20","c":5,"a":40},{"k":45,"d":"2020-04-30","c":5,"a":5},{"k":45,"d":"2020-05-11","c":3,"a":3,"b":3},{"k":45,"d":"2020-06-20","c":3,"b":5},{"k":45,"d":"2020-07-15","c":10,"b":20},{"k":45,"d":"2020-08-05","c":30,"b":70},{"k":45,"d":"2020-08-20","c":35,"b":60},{"k":45,"d":"2020-09-05","c":40,"b":80},{"k":45,"d":"2020-09-29","c":50,"b":70},
{"k":46,"d":"2020-02-01","c":0,"a":0},{"k":46,"d":"2020-03-01","c":0,"a":0},{"k":46,"d":"2020-03-09","c":5,"a":30},{"k":46,"d":"2020-03-16","c":70,"a":1600},{"k":46,"d":"2020-03-23","c":90,"a":800},{"k":46,"d":"2020-03-30","c":40,"a":300},{"k":46,"d":"2020-04-06","c":20,"a":180},{"k":46,"d":"2020-04-13","c":10,"a":100},{"k":46,"d":"2020-04-20","c":5,"a":30},{"k":46,"d":"2020-04-30","c":3,"a":5},{"k":46,"d":"2020-05-11","c":2,"a":2,"b":2},{"k":46,"d":"2020-06-20","c":2,"b":3},{"k":46,"d":"2020-07-15","c":5,"b":10},{"k":46,"d":"2020-08-05","c":20,"b":30},{"k":46,"d":"2020-08-20","c":40,"b":80},{"k":46,"d":"2020-09-05","c":70,"b":100},{"k":46,"d":"2020-09-29","c":90,"b":130},
{"k":47,"d":"2020-02-01","c":0,"a":0},{"k":47,"d":"2020-03-01","c":0,"a":10},{"k":47,"d":"2020-03-09","c":20,"a":100},{"k":47,"d":"2020-03-16","c":180,"a":2600},{"k":47,"d":"2020-03-23","c":200,"a":1900},{"k":47,"d":"2020-03-30","c":120,"a":900},{"k":47,"d":"2020-04-06","c":60,"a":400},{"k":47,"d":"2020-04-13","c":40,"a":200},{"k":47,"d":"2020-04-20","c":20,"a":100},{"k":47,"d":"2020-04-30","c":10,"a":50},{"k":47,"d":"2020-05-11","c":5,"a":5,"b":5},{"k":47,"d":"2020-06-20","c":5,"b":10},{"k":47,"d":"2020-07-15","c":20,"b":30},{"k":47,"d":"2020-08-05","c":80,"b":120},{"k":47,"d":"2020-08-20","c":200,"b":300},{"k":47,"d":"2020-09-05","c":350,"b":550},{"k":47,"d":"2020-09-29","c":280,"b":450},
{"k":48,"d":"2020-02-01","c":0,"a":0},{"k":48,"d":"2020-03-01","c":0,"a":10},{"k":48,"d":"2020-03-09","c":50,"a":300},{"k":48,"d":"2020-03-16","c":300,"a":2400},{"k":48,"d":"2020-03-23","c":250,"a":1100},{"k":48,"d":"2020-03-30","c":150,"a":800},{"k":48,"d":"2020-04-06","c":100,"a":700},{"k":48,"d":"2020-04-13","c":60,"a":450},{"k":48,"d":"2020-04-20","c":40,"a":250},{"k":48,"d":"2020-04-30","c":20,"a":50},{"k":48,"d":"2020-05-11","c":10,"a":10,"b":10},{"k":48,"d":"2020-06-20","c":10,"b":15},{"k":48,"d":"2020-07-15","c":50,"b":60},{"k":48,"d":"2020-08-05","c":200,"b":300},{"k":48,"d":"2020-08-20","c":380,"b":650},{"k":48,"d":"2020-09-05","c":320,"b":500},{"k":48,"d":"2020-09-29","c":230,"b":380},
{"k":49,"d":"2020-02-01","c":0,"a":0},{"k":49,"d":"2020-03-01","c":0,"a":10},{"k":49,"d":"2020-03-09","c":20,"a":100},{"k":49,"d":"2020-03-16","c":180,"a":1300},{"k":49,"d":"2020-03-23","c":120,"a":900},{"k":49,"d":"2020-03-30","c":220,"a":2000},{"k":49,"d":"2020-04-06","c":100,"a":1000},{"k":49,"d":"2020-04-13","c":60,"a":450},{"k":49,"d":"2020-04-20","c":40,"a":300},{"k":49,"d":"2020-04-30","c":20,"a":50},{"k":49,"d":"2020-05-11","c":10,"a":10,"b":10},{"k":49,"d":"2020-06-20","c":10,"b":15},{"k":49,"d":"2020-07-15","c":20,"b":30},{"k":49,"d":"2020-08-05","c":70,"b":100},{"k":49,"d":"2020-08-20","c":150,"b":250},{"k":49,"d":"2020-09-05","c":250,"b":450},{"k":49,"d":"2020-09-29","c":200,"b":400},
{"k":50,"d":"2020-02-01","c":0,"a":0},{"k":50,"d":"2020-03-01","c":0,"a":10},{"k":50,"d":"2020-03-09","c":50,"a":300},{"k":50,"d":"2020-03-16","c":180,"a":1200},{"k":50,"d":"2020-03-23","c":120,"a":550},{"k":50,"d":"2020-03-30","c":70,"a":250},{"k":50,"d":"2020-04-06","c":40,"a":100},{"k":50,"d":"2020-04-13","c":20,"a":50},{"k":50,"d":"2020-04-20","c":15,"a":20},{"k":50,"d":"2020-04-30","c":10,"a":10},{"k":50,"d":"2020-05-11","c":5,"a":5,"b":5},{"k":50,"d":"2020-06-20","c":10,"b":15},{"k":50,"d":"2020-07-15","c":50,"b":80},{"k":50,"d":"2020-08-05","c":120,"b":220},{"k":50,"d":"2020-08-20","c":110,"b":200},{"k":50,"d":"2020-09-05","c":100,"b":170},{"k":50,"d":"2020-09-29","c":70,"b":120},
{"k":51,"d":"2020-02-01","c":0,"a":0},{"k":51,"d":"2020-03-01","c":0,"a":10},{"k":51,"d":"2020-03-09","c":20,"a":100},{"k":51,"d":"2020-03-16","c":100,"a":700},{"k":51,"d":"2020-03-23","c":200,"a":2200},{"k":51,"d":"2020-03-30","c":120,"a":850},{"k":51,"d":"2020-04-06","c":100,"a":600},{"k":51,"d":"2020-04-13","c":70,"a":400},{"k":51,"d":"2020-04-20","c":50,"a":150},{"k":51,"d":"2020-04-30","c":30,"a":30},{"k":51,"d":"2020-05-11","c":20,"a":20,"b":20},{"k":51,"d":"2020-06-20","c":20,"b":30},{"k":51,"d":"2020-07-15","c":150,"b":200},{"k":51,"d":"2020-08-05","c":450,"b":900},{"k":51,"d":"2020-08-20","c":300,"b":550},{"k":51,"d":"2020-09-05","c":250,"b":450},{"k":51,"d":"2020-09-29","c":250,"b":420},
{"k":52,"d":"2020-02-01","c":0,"a":0},{"k":52,"d":"2020-03-01","c":0,"a":0},{"k":52,"d":"2020-03-09","c":5,"a":20},{"k":52,"d":"2020-03-16","c":30,"a":380},{"k":52,"d":"2020-03-23","c":40,"a":300},{"k":52,"d":"2020-03-30","c":40,"a":550},{"k":52,"d":"2020-04-06","c":20,"a":150},{"k":52,"d":"2020-04-13","c":15,"a":100},{"k":52,"d":"2020-04-20","c":10,"a":80},{"k":52,"d":"2020-04-30","c":20,"a":300},{"k":52,"d":"2020-05-11","c":5,"a":5,"b":5},{"k":52,"d":"2020-06-20","c":5,"b":5},{"k":52,"d":"2020-07-15","c":5,"b":10},{"k":52,"d":"2020-08-05","c":10,"b":20},{"k":52,"d":"2020-08-20","c":20,"b":40},{"k":52,"d":"2020-09-05","c":50,"b":100},{"k":52,"d":"2020-09-29","c":60,"b":110}
]},
"title":{"text":"Fuente: Ministerio de Sanidad, ISCIII, CCAES y elaboración propia","orient":"bottom","anchor":"start","font":"Lato","fontSize":30,"fontWeight":"normal","color":"#a0a0a0","dx":-2,"dy":-37,"offset":0},
"vconcat":[{
"data":{"name":"m"},
"transform":[{"lookup":"k","from":{"data":{"name":"prov"},"key":"k","fields":["n"]}}],
"title":{"text":"DATADISTA","orient":"bottom","anchor":"end","font":"Lato","fontSize":44,"fontWeight":"normal","color":"#111111","offset":57},
"facet":{"field":"n","type":"nominal","sort":{"field":"k","op":"min"},"title":null,"header":{"labelFont":"Lato","labelFontSize":22,"labelFontWeight":"bold","labelColor":"#222222","labelAnchor":"start","labelPadding":0}},
"columns":6,
"bounds":"flush",
"spacing":{"column":106,"row":167},
"resolve":{"scale":{"y":"independent"},"axis":{"x":"independent"}},
"spec":{
"width":206,"height":186,
"encoding":{"x":{"field":"d","type":"temporal","scale":{"domain":[{"year":2020,"month":1,"date":1},{"year":2020,"month":10,"date":1}]},"axis":{"tickCount":{"interval":"month","step":1},"labelExpr":"month(datum.value)%2==0?timeFormat(datum.value,'%Y-%m-%d'):''"}}},
"layer":[
{"mark":{"type":"line","strokeWidth":1.3},"encoding":{"y":{"field":"b","type":"quantitative","title":"\u00a0","scale":{"zero":true,"nice":false},"axis":{"title":"\u00a0","titleX":0,"titleY":-2,"titleAngle":0,"titleAlign":"left","titleBaseline":"bottom","titleFontSize":10,"tickCount":60,"values":{"expr":"sequence(0, domain('concat_0_child_y')[1]*1.0001, (domain('concat_0_child_y')[1]/pow(10,floor(log(domain('concat_0_child_y')[1])/LN10+1e-9)) < 1.02 ? 0.2 : domain('concat_0_child_y')[1]/pow(10,floor(log(domain('concat_0_child_y')[1])/LN10+1e-9)) < 1.45 ? 0.4 : domain('concat_0_child_y')[1]/pow(10,floor(log(domain('concat_0_child_y')[1])/LN10+1e-9)) < 2.7 ? 0.5 : domain('concat_0_child_y')[1]/pow(10,floor(log(domain('concat_0_child_y')[1])/LN10+1e-9)) < 5.2 ? 1 : 2)*pow(10,floor(log(domain('concat_0_child_y')[1])/LN10+1e-9)))"},"labelExpr":"datum.value>=10000?replace(format(datum.value,','),',','.'):format(datum.value,'d')"}},"color":{"datum":"Total posibles casos (2ª ola)","type":"nominal","scale":{"domain":["Casos confirmados","Total posibles casos (1ª ola)","Total posibles casos (2ª ola)"],"range":["#006699","#ffb000","#e9513b"]},"legend":{"title":null,"orient":"none","legendX":-80,"legendY":-118,"direction":"horizontal","symbolType":"M-1,-0.3A0.1,0.1,0,0,1,-0.9,-0.4L0.9,-0.4A0.1,0.1,0,0,1,1,-0.3L1,0.3A0.1,0.1,0,0,1,0.9,0.4L-0.9,0.4A0.1,0.1,0,0,1,-1,0.3Z","symbolSize":4489,"symbolStrokeWidth":0,"labelFontSize":30,"labelColor":"#333333","labelFont":"Lato","labelOffset":10,"labelLimit":900,"columnPadding":33,"encode":{"symbols":{"update":{"fill":{"scale":"color","field":"value"},"stroke":{"value":"transparent"},"opacity":{"value":1}}}}}}}},
{"mark":{"type":"line","strokeWidth":1.3},"encoding":{"y":{"field":"a","type":"quantitative","title":"\u00a0","scale":{"zero":true,"nice":false}},"color":{"datum":"Total posibles casos (1ª ola)","type":"nominal"}}},
{"mark":{"type":"line","strokeWidth":1.3},"encoding":{"y":{"field":"c","type":"quantitative","title":"\u00a0","scale":{"zero":true,"nice":false}},"color":{"datum":"Casos confirmados","type":"nominal"}}}
]}
}],
"config":{
"font":"Lato",
"view":{"fill":"#f6f6f6","stroke":null},
"axis":{"grid":false,"labelFont":"Lato","labelFontSize":20,"labelColor":"#9b9b9b","tickColor":"#e4e4e4","tickWidth":1.5,"domain":false},
"axisX":{"title":null,"domain":true,"domainColor":"#e8e8e8","domainWidth":2.5,"labelAngle":-45,"labelOverlap":false,"labelPadding":4,"tickSize":10,"labelFontSize":21},
"axisY":{"tickSize":12,"labelPadding":7}
}
}
